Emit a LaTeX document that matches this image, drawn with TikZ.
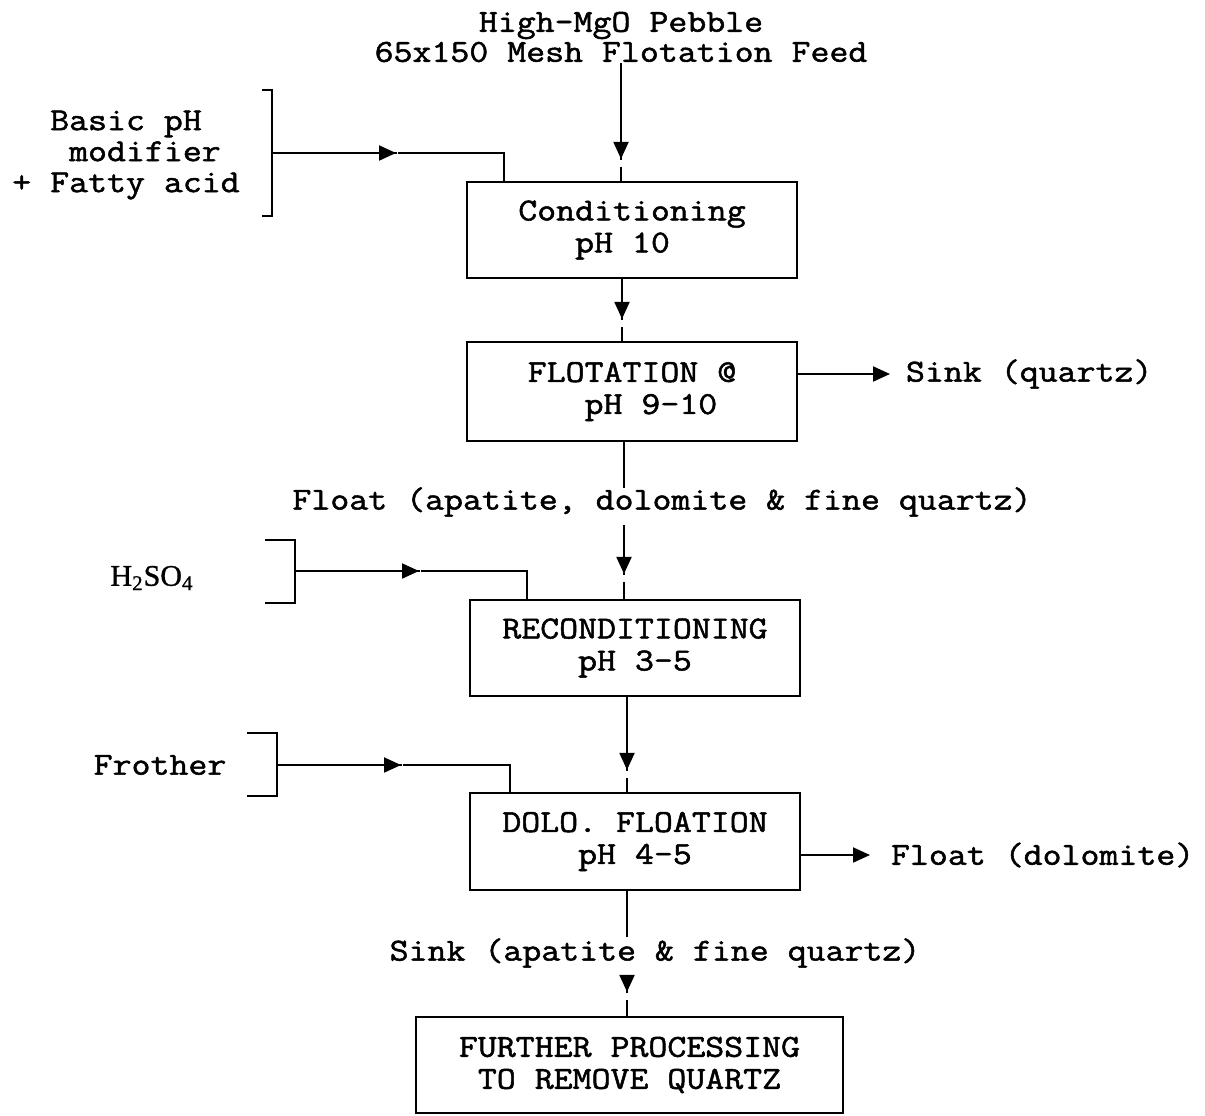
\documentclass[tikz,border=0pt]{standalone}
\usepackage{fontspec}
\setmainfont{Latin Modern Mono}[FakeBold=1.6, FakeStretch=1.15]
\newfontfamily\chemfont{Liberation Serif}[FakeBold=1]
\usetikzlibrary{arrows.meta,decorations.markings,calc}

\begin{document}
\begin{tikzpicture}[x=0.5pt,y=-0.5pt,
  every node/.style={font=\fontsize{16}{16}\selectfont, inner sep=0pt},
  stagebox/.style={draw, line width=1.1pt, minimum width=165pt, minimum height=48pt, align=center},
  flow/.style={line width=1pt},
  tipmark/.style 2 args={postaction={decorate}, decoration={markings,
      mark=at position #1 with {\fill[white] (0.4pt,-1.2pt) rectangle (#2,1.2pt);
                                \arrow{Triangle[length=8.5pt,width=7.5pt]}}}},
  vtip/.style={tipmark={#1}{4pt}},
  htip/.style={tipmark={#1}{1pt}},
  outflow/.style={line width=1pt, -{Triangle[length=8.5pt,width=7.5pt]}},
  bracket/.style={line width=1pt}
]
\useasboundingbox (0,0) rectangle (1205,1115);

% feed
\node[align=center, font=\fontsize{16}{15}\selectfont] (feed) at (621,37) {High-MgO Pebble\\65x150 Mesh Flotation Feed};

% process stages
\node[stagebox, align=left] (cond) at (632,230) {Conditioning\\\phantom{xxx}pH 10};
\node[stagebox, align=left, minimum height=49.5pt] (flot) at (632,391.5) {FLOTATION @\\\phantom{xxx}pH 9-10};
\node[stagebox] (recond) at (635,648) {RECONDITIONING\\pH 3-5};
\node[stagebox, minimum height=48.5pt] (dolo) at (635,841.5) {DOLO. FLOATION\\pH 4-5};
\node[stagebox, minimum width=213.5pt] (further) at (629.5,1065) {FURTHER PROCESSING\\TO REMOVE QUARTZ};

% stream labels
\node (floatlbl) at (662,502) {Float (apatite, dolomite \& fine quartz)};
\node (sinklbl) at (655,953) {Sink (apatite \& fine quartz)};
\node[anchor=west, outer sep=8pt] (sinkq) at (890,374) {Sink (quartz)};
\node[anchor=west, outer sep=10.5pt] (floatd) at (870,855) {Float (dolomite)};

% reagents
\node[align=left, font=\fontsize{16}{15.5}\selectfont] (reag1) at (126,155) {\phantom{xx}Basic pH\\\phantom{xxx}modifier\\+ Fatty acid};
\node[font=\chemfont\fontsize{15}{15}\selectfont] (reag2) at (152,578) {H\textsubscript{2}SO\textsubscript{4}};
\node (reag3) at (160,765) {Frother};

\draw[bracket] (262,90) -- (272,90) -- (272,216) -- (262,216);
\draw[bracket] (265,540) -- (295,540) -- (295,603) -- (265,603);
\draw[bracket] (247,733) -- (277,733) -- (277,796) -- (247,796);
\coordinate (r1) at (272,153);
\coordinate (r2) at (295,571);
\coordinate (r3) at (277,765);

\draw[flow, htip=62pt] (r1) -| ($(cond.north west)+(38,0)$);
\draw[flow, htip=62pt] (r2) -| ($(recond.north west)+(58,0)$);
\draw[flow, htip=62pt] (r3) -| ($(dolo.north west)+(41,0)$);

% main stream
\coordinate (s1) at ($(cond.south)+(-10,0)$);
\coordinate (s2) at ($(flot.south)+(-8,0)$);
\coordinate (s3) at ($(recond.south)+(-8,0)$);
\coordinate (s4) at ($(dolo.south)+(-8,0)$);
\coordinate (f1) at (s2 |- 0,488);
\coordinate (f2) at (s2 |- 0,525);
\coordinate (k1) at (s4 |- 0,937);
\coordinate (k2) at (s4 |- 0,977);

\draw[flow, vtip=-11pt] (feed.south) -- (feed.south |- cond.north);
\draw[flow, vtip=-11pt] (s1) -- (s1 |- flot.north);
\draw[flow] (s2) -- (f1);
\draw[flow, vtip=-12.5pt] (f2) -- (f2 |- recond.north);
\draw[flow, vtip=-11pt] (s3) -- (s3 |- dolo.north);
\draw[flow] (s4) -- (k1);
\draw[flow, vtip=-12pt] (k2) -- (k2 |- further.north);

% side products
\coordinate (o1) at ($(flot.east)+(0,-17.5)$);
\coordinate (o2) at ($(dolo.east)+(0,13.5)$);
\draw[outflow] (o1) -- (o1 -| sinkq.west);
\draw[outflow] (o2) -- (o2 -| floatd.west);
\end{tikzpicture}
\end{document}
